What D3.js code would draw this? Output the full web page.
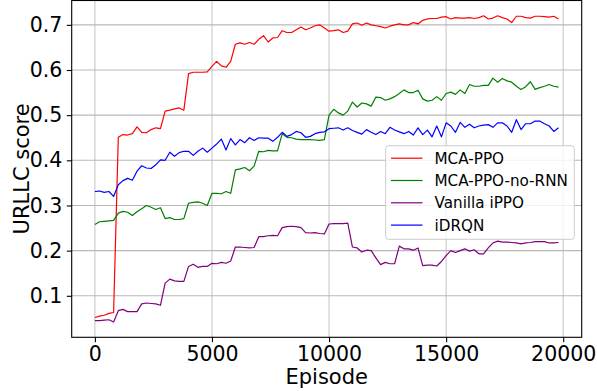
<!DOCTYPE html>
<html><head><meta charset="utf-8">
<script src="https://cdn.jsdelivr.net/npm/d3@7"></script>
<style>
html,body{margin:0;padding:0;background:#fff;}
text{font-family:"DejaVu Sans",sans-serif;fill:#000;}
</style></head>
<body><svg id="chart" width="597" height="391"></svg>
<script>
const episodes = d3.range(0, 20000, 200);
const seriesNames = ["MCA-PPO", "MCA-PPO-no-RNN", "Vanilla iPPO", "iDRQN"];
const seriesColors = ["red", "green", "purple", "blue"];
const xTicks = [0, 5000, 10000, 15000, 20000];
const yTicks = [0.1, 0.2, 0.3, 0.4, 0.5, 0.6, 0.7];
const xLabel = "Episode";
const yLabel = "URLLC score";

const mcaPPO = [0.052,0.055,0.057,0.061,0.063,0.451,0.457,0.456,0.459,0.474,
0.462,0.461,0.468,0.472,0.470,0.509,0.511,0.514,0.516,0.511,
0.592,0.595,0.595,0.595,0.596,0.608,0.619,0.609,0.606,0.619,
0.657,0.660,0.657,0.661,0.657,0.668,0.676,0.662,0.671,0.672,
0.687,0.683,0.683,0.689,0.695,0.689,0.693,0.698,0.700,0.693,
0.686,0.687,0.689,0.683,0.686,0.702,0.704,0.699,0.704,0.700,
0.698,0.696,0.693,0.697,0.700,0.702,0.700,0.700,0.705,0.702,
0.710,0.713,0.714,0.714,0.717,0.718,0.713,0.716,0.715,0.715,
0.716,0.714,0.716,0.720,0.713,0.715,0.720,0.716,0.713,0.705,
0.719,0.719,0.716,0.715,0.719,0.719,0.718,0.717,0.719,0.713];

const mcaNoRNN = [0.258,0.264,0.265,0.266,0.267,0.283,0.287,0.285,0.278,0.286,
0.293,0.300,0.296,0.291,0.295,0.271,0.273,0.269,0.269,0.271,
0.305,0.307,0.308,0.305,0.300,0.327,0.327,0.326,0.331,0.327,
0.379,0.381,0.384,0.377,0.387,0.420,0.419,0.422,0.421,0.421,
0.459,0.451,0.450,0.447,0.446,0.446,0.446,0.445,0.444,0.446,
0.500,0.513,0.505,0.500,0.509,0.529,0.518,0.527,0.525,0.520,
0.540,0.539,0.533,0.536,0.541,0.548,0.556,0.550,0.550,0.555,
0.536,0.531,0.533,0.541,0.533,0.548,0.551,0.546,0.556,0.548,
0.568,0.564,0.564,0.566,0.566,0.582,0.573,0.581,0.576,0.573,
0.564,0.557,0.563,0.574,0.557,0.561,0.564,0.568,0.564,0.562];

const vanillaIPPO = [0.045,0.045,0.046,0.047,0.042,0.067,0.070,0.065,0.065,0.065,
0.082,0.084,0.083,0.082,0.079,0.128,0.137,0.133,0.132,0.132,
0.165,0.170,0.163,0.165,0.165,0.172,0.171,0.174,0.172,0.177,
0.208,0.208,0.207,0.206,0.207,0.231,0.231,0.233,0.234,0.233,
0.251,0.253,0.254,0.253,0.251,0.240,0.239,0.240,0.238,0.237,
0.259,0.260,0.260,0.260,0.261,0.208,0.206,0.197,0.201,0.200,
0.184,0.169,0.174,0.171,0.171,0.210,0.204,0.204,0.201,0.206,
0.167,0.168,0.168,0.166,0.176,0.189,0.200,0.196,0.200,0.204,
0.199,0.202,0.193,0.193,0.206,0.217,0.221,0.219,0.219,0.218,
0.217,0.215,0.217,0.218,0.220,0.220,0.220,0.217,0.217,0.218];

const iDRQN = [0.331,0.332,0.329,0.331,0.320,0.346,0.355,0.360,0.356,0.376,
0.388,0.383,0.382,0.390,0.401,0.400,0.418,0.409,0.417,0.420,
0.420,0.411,0.420,0.427,0.418,0.427,0.436,0.447,0.423,0.448,
0.434,0.446,0.439,0.450,0.444,0.450,0.449,0.449,0.442,0.451,
0.462,0.453,0.457,0.464,0.461,0.451,0.453,0.459,0.462,0.463,
0.470,0.471,0.472,0.467,0.472,0.466,0.462,0.458,0.468,0.462,
0.457,0.464,0.459,0.473,0.467,0.463,0.459,0.464,0.456,0.472,
0.457,0.467,0.452,0.476,0.452,0.483,0.476,0.462,0.484,0.473,
0.480,0.472,0.476,0.478,0.479,0.473,0.483,0.483,0.476,0.462,
0.490,0.468,0.481,0.481,0.487,0.487,0.481,0.476,0.464,0.472];

const allSeries = [mcaPPO, mcaNoRNN, vanillaIPPO, iDRQN];

const svg = d3.select("#chart");
const plot = {left: 71.7, right: 581.7, top: 0.5, bottom: 337.3};

// matplotlib-like 5% margins
const xMin = d3.min(episodes), xMax = d3.max(episodes);
const xPad = (xMax - xMin) * 0.05;
const allVals = allSeries.flat();
const yMin = d3.min(allVals), yMax = d3.max(allVals);
const yPad = (yMax - yMin) * 0.05;

const x = d3.scaleLinear().domain([xMin - xPad, xMax + xPad]).range([plot.left, plot.right]);
const y = d3.scaleLinear().domain([yMin - yPad, yMax + yPad]).range([plot.bottom, plot.top]);

// grid
const grid = svg.append("g");
grid.selectAll("line.vx").data(xTicks).enter().append("line")
  .attr("x1", d => x(d)).attr("x2", d => x(d))
  .attr("y1", plot.top).attr("y2", plot.bottom)
  .attr("stroke", "#b0b0b0").attr("stroke-width", 1.1).attr("stroke-opacity", 0.7);
grid.selectAll("line.hy").data(yTicks).enter().append("line")
  .attr("x1", plot.left).attr("x2", plot.right)
  .attr("y1", d => y(d)).attr("y2", d => y(d))
  .attr("stroke", "#b0b0b0").attr("stroke-width", 1.1).attr("stroke-opacity", 0.9);

// lines
const line = d3.line().x((d, i) => x(episodes[i])).y(d => y(d));
allSeries.forEach((s, k) => {
  svg.append("path").datum(s)
    .attr("fill", "none")
    .attr("stroke", seriesColors[k])
    .attr("stroke-width", 1.2)
    .attr("stroke-linejoin", "round")
    .attr("d", line);
});

// axes
const xAxis = d3.axisBottom(x).tickValues(xTicks).tickFormat(d3.format("d")).tickSize(4.9).tickPadding(4.5);
const yAxis = d3.axisLeft(y).tickValues(yTicks).tickFormat(d3.format(".1f")).tickSize(4.9).tickPadding(4.5);
const gx = svg.append("g").attr("transform", `translate(0,${plot.bottom})`).call(xAxis);
const gy = svg.append("g").attr("transform", `translate(${plot.left},0)`).call(yAxis);
[gx, gy].forEach(g => {
  g.select(".domain").remove();
  g.selectAll(".tick line").attr("stroke", "#000").attr("stroke-width", 1.1);
  g.selectAll(".tick text").attr("font-size", "20.5px").attr("font-family", "DejaVu Sans").attr("fill", "#000");
});

// frame
svg.append("rect")
  .attr("x", plot.left).attr("y", plot.top)
  .attr("width", plot.right - plot.left).attr("height", plot.bottom - plot.top)
  .attr("fill", "none").attr("stroke", "#000").attr("stroke-width", 1.1);

// axis labels
svg.append("text").attr("x", (plot.left + plot.right) / 2).attr("y", 384)
  .attr("text-anchor", "middle").attr("font-size", "21px").text(xLabel);
svg.append("text").attr("transform", `translate(29,${(plot.top + plot.bottom) / 2}) rotate(-90)`)
  .attr("text-anchor", "middle").attr("font-size", "21px").text(yLabel);

// legend
const lg = svg.append("g");
lg.append("rect").attr("x", 385.7).attr("y", 145.7).attr("width", 188.6).attr("height", 93.6)
  .attr("rx", 3).attr("fill", "#fff").attr("fill-opacity", 0.8)
  .attr("stroke", "#cccccc").attr("stroke-width", 1);
seriesNames.forEach((name, k) => {
  const cy = 158.2 + k * 22.3;
  lg.append("line").attr("x1", 391).attr("x2", 422.5).attr("y1", cy).attr("y2", cy)
    .attr("stroke", seriesColors[k]).attr("stroke-width", 1.2);
  lg.append("text").attr("x", 434.5).attr("y", cy).attr("dy", "0.36em")
    .attr("font-size", "15.2px").text(name);
});
</script></body></html>
